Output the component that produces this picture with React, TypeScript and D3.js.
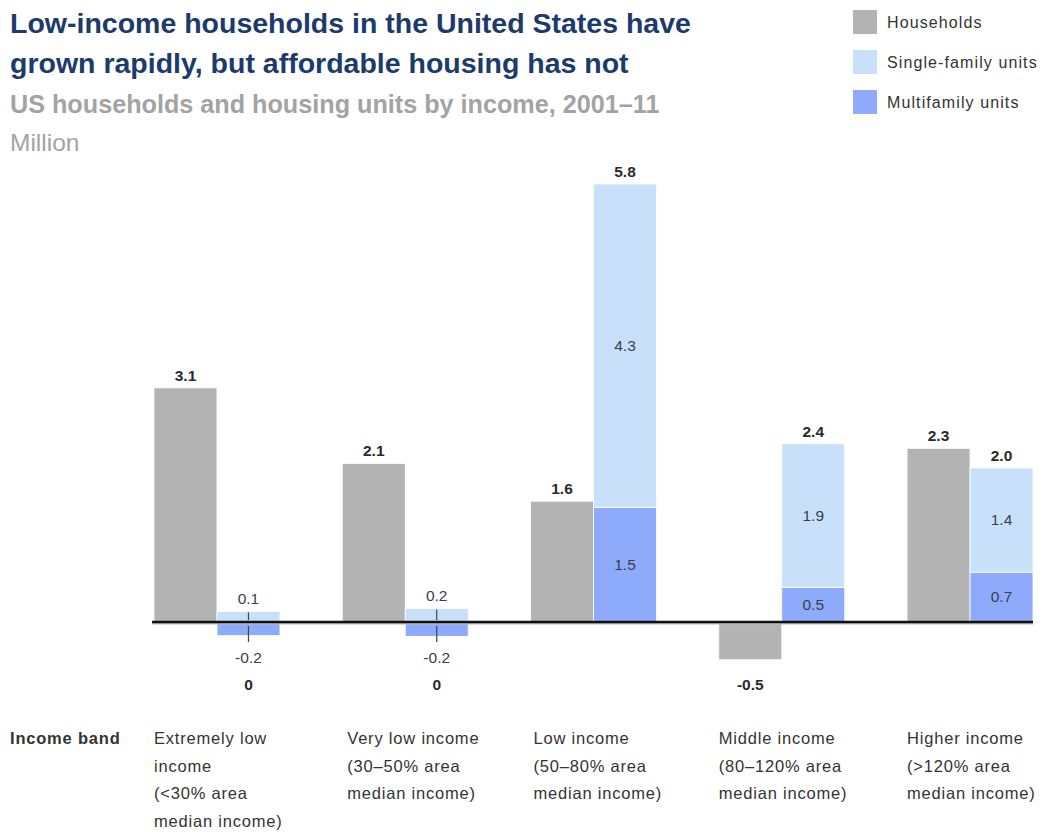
import React from "react";
import * as d3 from "d3";

const categories = ["Extremely low", "Very low", "Low", "Middle", "Higher"];
const categoryLines = [
  ["Extremely low", "income", "(<30% area", "median income)"],
  ["Very low income", "(30–50% area", "median income)"],
  ["Low income", "(50–80% area", "median income)"],
  ["Middle income", "(80–120% area", "median income)"],
  ["Higher income", "(>120% area", "median income)"],
];
const households = [3.1, 2.1, 1.6, -0.5, 2.3];
const singleFamily = [0.14, 0.18, 4.28, 1.9, 1.38];
const multifamily = [-0.18, -0.19, 1.52, 0.46, 0.66];

const legendItems = [
  { label: "Households", color: "#b3b3b3" },
  { label: "Single-family units", color: "#c8e0fa" },
  { label: "Multifamily units", color: "#8eabfb" },
];

const W = 1046;
const H = 832;
const FONT = "'Liberation Sans', Arial, sans-serif";

const fmt1 = d3.formatLocale({
  decimal: ".",
  thousands: ",",
  grouping: [3],
  currency: ["$", ""],
  minus: "-",
}).format(".1f");
const fmt = (v: number) => (Math.abs(v) < 0.05 ? "0" : fmt1(v));

export default function App() {
  const x = d3
    .scaleBand<string>()
    .domain(categories)
    .range([154, 1033])
    .paddingInner(0.331)
    .paddingOuter(0);
  const sub = d3
    .scaleBand<string>()
    .domain(["h", "u"])
    .range([0, x.bandwidth()])
    .padding(0);
  const y = d3.scaleLinear().domain([0, 5.8]).range([622, 184]);

  const rows = categories.map((c, i) => ({
    cat: c,
    multi: multifamily[i],
    single: singleFamily[i],
  }));
  const stack = d3
    .stack<any>()
    .keys(["multi", "single"])
    .offset(d3.stackOffsetDiverging);
  const series = stack(rows);
  const colorFor: Record<string, string> = {
    multi: legendItems[2].color,
    single: legendItems[1].color,
  };

  const valueColor = "#2a2a2a";
  const segColor = "#3a3d4a";

  return (
    <div style={{ position: "absolute", left: 0, top: 0 }}>
      <svg width={W} height={H} style={{ display: "block", background: "#fff" }} fontFamily={FONT}>
        {/* Title */}
        <text x={10} y={33} fontSize={28.5} fontWeight="bold" fill="#1c3a6b">
          Low-income households in the United States have
        </text>
        <text x={10} y={73} fontSize={28.5} fontWeight="bold" fill="#1c3a6b">
          grown rapidly, but affordable housing has not
        </text>
        <text x={10} y={113} fontSize={25.2} fontWeight="bold" fill="#a3a3a3">
          US households and housing units by income, 2001–11
        </text>
        <text x={10} y={151} fontSize={24.5} fill="#a3a3a3">
          Million
        </text>

        {/* Legend */}
        {legendItems.map((d, i) => (
          <g key={d.label} transform={`translate(853,${10 + i * 40})`}>
            <rect width={24} height={24} fill={d.color} />
            <text x={34} y={18} fontSize={16} letterSpacing={1.1} fill="#333">
              {d.label}
            </text>
          </g>
        ))}

        {/* Household bars */}
        {categories.map((c, i) => {
          const v = households[i];
          const x0 = (x(c) as number) + (sub("h") as number);
          const top = Math.min(y(v), y(0));
          const h = Math.abs(y(v) - y(0));
          return (
            <g key={"h" + c}>
              <rect x={x0} y={top} width={sub.bandwidth()} height={h} fill={legendItems[0].color} stroke="#fff" strokeWidth={0.8} />
              <text
                x={x0 + sub.bandwidth() / 2}
                y={v >= 0 ? top - 7 : 690}
                textAnchor="middle"
                fontSize={15.5}
                fontWeight="bold"
                fill={valueColor}
              >
                {fmt(v)}
              </text>
            </g>
          );
        })}

        {/* Units stacked bars */}
        {series.map((s) =>
          s.map((d, i) => {
            const c = categories[i];
            const x0 = (x(c) as number) + (sub("u") as number);
            const bw = sub.bandwidth();
            const y0 = y(Math.max(d[0], d[1]));
            const y1 = y(Math.min(d[0], d[1]));
            const h = y1 - y0;
            const v = (d.data as any)[s.key] as number;
            const cx = x0 + bw / 2;
            const small = h < 22;
            let ly: number;
            if (!small) ly = (y0 + y1) / 2 + 5;
            else if (v >= 0) ly = y0 - 7;
            else ly = 663;
            return (
              <g key={s.key + c}>
                <rect x={x0} y={y0} width={bw} height={h} fill={colorFor[s.key]} stroke="#fff" strokeWidth={0.8} />
                {small && v >= 0 && (
                  <line x1={cx} x2={cx} y1={y0 + 1} y2={y(0) - 2} stroke="#444" strokeWidth={1.2} />
                )}
                {small && v < 0 && (
                  <line x1={cx} x2={cx} y1={y(0) + 4} y2={642} stroke="#444" strokeWidth={1.2} />
                )}
                <text x={cx} y={ly} textAnchor="middle" fontSize={15.5} fill={segColor}>
                  {fmt(v)}
                </text>
              </g>
            );
          })
        )}

        {/* Units totals */}
        {categories.map((c, i) => {
          const total = singleFamily[i] + multifamily[i];
          const x0 = (x(c) as number) + (sub("u") as number);
          const top = y(Math.max(0, multifamily[i]) + singleFamily[i]);
          const pos = total > 0.05;
          return (
            <text
              key={"t" + c}
              x={x0 + sub.bandwidth() / 2}
              y={pos ? top - 7 : 690}
              textAnchor="middle"
              fontSize={15.5}
              fontWeight="bold"
              fill={valueColor}
            >
              {fmt(total)}
            </text>
          );
        })}

        {/* Zero line */}
        <line x1={152} x2={1033} y1={y(0) + 1} y2={y(0) + 1} stroke="#bbb" strokeWidth={3} />
        <line x1={152} x2={1033} y1={y(0)} y2={y(0)} stroke="#111" strokeWidth={2.5} />

        {/* Category labels */}
        <text x={10} y={744} fontSize={16.5} letterSpacing={0.8} fontWeight="bold" fill="#333">
          Income band
        </text>
        {categories.map((c, i) => (
          <text key={"c" + c} fontSize={16.5} letterSpacing={0.8} fill="#333">
            {categoryLines[i].map((line, j) => (
              <tspan key={j} x={(x(c) as number) + (i === 1 ? 5 : i === 2 ? 3 : 0)} y={744 + j * 27.5}>
                {line}
              </tspan>
            ))}
          </text>
        ))}
      </svg>
    </div>
  );
}
